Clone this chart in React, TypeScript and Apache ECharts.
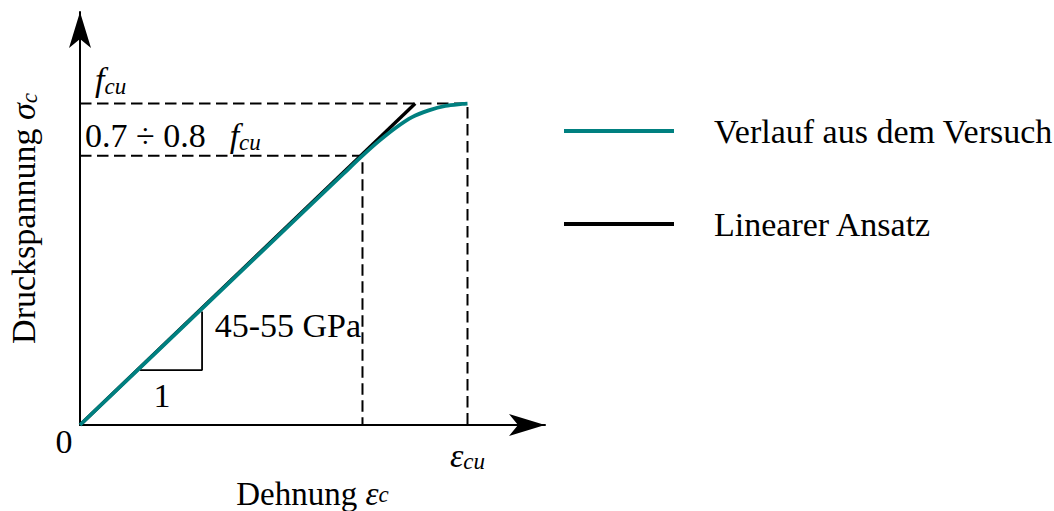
import React, { useEffect, useRef } from "react";
import * as echarts from "echarts";

// ---- data (normalised: strain / eps_cu, stress / f_cu) ----
const curveX = [0, 0.3, 0.6, 0.68, 0.729, 0.772, 0.815, 0.857, 0.9, 0.943, 0.986, 1.0];
const curveY = [0, 0.345, 0.69, 0.782, 0.838, 0.884, 0.925, 0.958, 0.979, 0.993, 0.999, 1.0];
const linearX = [0, 0.865];
const linearY = [0, 1.0];
const fcuLevel = 1.0;
const epsCu = 1.0;
const limitX = 0.729;
const limitY = 0.838;
const slopeX = [0.155, 0.315, 0.315];
const slopeY = [0.171, 0.171, 0.353];
const xMax = 1.2;
const yMax = 1.285;
const legendNames = ["Verlauf aus dem Versuch", "Linearer Ansatz"];
const annotationTexts = [
  "{i|f}{s|cu}",
  "{r|0.7 ÷ 0.8}{g|f}{s|cu}",
  "{r|45-55 GPa}",
  "{r|1}",
  "{r|0}",
];
const annotationAnchors = [
  [0, fcuLevel],
  [0, limitY],
  [slopeX[1], slopeY[1]],
  [(slopeX[0] + slopeX[1]) / 2, slopeY[0]],
  [0, 0],
];

const FONT = "'Liberation Serif', 'Times New Roman', serif";
const TEAL = "#008080";
const FS = 34;
const SFS = 23;

const richEc = {
  r: { fontFamily: FONT, fontSize: FS, lineHeight: 36, color: "#000" },
  i: { fontFamily: FONT, fontSize: FS, fontStyle: "italic", lineHeight: 36, color: "#000" },
  s: { fontFamily: FONT, fontSize: SFS, fontStyle: "italic", lineHeight: 20, verticalAlign: "bottom", color: "#000" },
};
const richName = {
  r: { fontFamily: FONT, fontSize: 33, lineHeight: 24, color: "#000" },
  i: { fontFamily: FONT, fontSize: 33, fontStyle: "italic", lineHeight: 24, color: "#000" },
  s: { fontFamily: FONT, fontSize: SFS, fontStyle: "italic", lineHeight: 10, verticalAlign: "bottom", color: "#000" },
};
const richZr = {
  r: { fontFamily: FONT, fontSize: FS, lineHeight: 36, fill: "#000" },
  i: { fontFamily: FONT, fontSize: FS, fontStyle: "italic", lineHeight: 36, fill: "#000" },
  g: { fontFamily: FONT, fontSize: FS, fontStyle: "italic", lineHeight: 36, fill: "#000", padding: [0, 0, 0, 24] },
  s: { fontFamily: FONT, fontSize: SFS, fontStyle: "italic", lineHeight: 20, verticalAlign: "bottom", fill: "#000" },
};
const annotationLayout = [
  { dx: 15, dy: -24, align: "left" },
  { dx: 5, dy: -20, align: "left" },
  { dx: 12.6, dy: -45, align: "left" },
  { dx: -9, dy: 25, align: "center" },
  { dx: -16, dy: 16, align: "center" },
];

const pairs = (xs: number[], ys: number[]) => xs.map((x, i) => [x, ys[i]]);

export default function App() {
  const ref = useRef<HTMLDivElement>(null);
  useEffect(() => {
    document.body.style.margin = "0";
    if (!ref.current) return;
    const chart = echarts.init(ref.current, null, { renderer: "svg" });
    const axisLine = {
      show: true,
      symbol: ["none", "arrow"],
      symbolSize: [16.5, 36],
      lineStyle: { color: "#000", width: 2 },
    };
    const dashed = { color: "#000", width: 2, type: [11.5, 5.5] as any };
    chart.setOption({
      animation: false,
      backgroundColor: "#fff",
      grid: { left: 80, right: 509, top: 12, bottom: 86, outerBoundsMode: "none" },
      legend: {
        data: legendNames,
        orient: "vertical",
        left: 564,
        top: 113,
        padding: 0,
        itemWidth: 110,
        itemHeight: 4,
        itemGap: 57,
        icon: "rect",
        textStyle: { fontFamily: FONT, fontSize: FS, lineHeight: 36, color: "#000", padding: [0, 0, 0, 35] },
      },
      xAxis: {
        type: "value",
        min: 0,
        max: xMax,
        interval: 1,
        axisLine,
        axisTick: { show: false },
        splitLine: { show: false },
        axisLabel: {
          margin: 12,
          formatter: (v: number) => (Math.abs(v - epsCu) < 1e-9 ? "{i|ε}{s|cu}" : ""),
          rich: richEc,
        },
        name: "{r|Dehnung }{i|ε}{s|c}",
        nameLocation: "middle",
        nameGap: 57,
        nameTextStyle: { rich: richName },
      },
      yAxis: {
        type: "value",
        min: 0,
        max: yMax,
        axisLine,
        axisTick: { show: false },
        splitLine: { show: false },
        axisLabel: { show: false },
        name: "{r|Druckspannung }{i|σ}{s|c}",
        nameLocation: "middle",
        nameRotate: 90,
        nameGap: 39,
        nameTextStyle: { rich: richEc },
      },
      series: [
        {
          name: "Linearer Ansatz",
          type: "line",
          data: pairs(linearX, linearY),
          symbol: "none",
          lineStyle: { color: "#000", width: 3.4 },
          itemStyle: { color: "#000" },
          z: 3,
        },
        {
          name: "Verlauf aus dem Versuch",
          type: "line",
          data: pairs(curveX, curveY),
          symbol: "none",
          smooth: 0.3,
          lineStyle: { color: TEAL, width: 3.8 },
          itemStyle: { color: TEAL },
          z: 4,
        },
        {
          name: "fcu",
          type: "line",
          data: [[0, fcuLevel], [epsCu, fcuLevel], [epsCu, 0]],
          symbol: "none",
          lineStyle: dashed,
          z: 2,
        },
        {
          name: "limit",
          type: "line",
          data: [[0, limitY], [limitX, limitY], [limitX, 0]],
          symbol: "none",
          lineStyle: dashed,
          z: 2,
        },
        {
          name: "slope",
          type: "line",
          data: pairs(slopeX, slopeY),
          symbol: "none",
          lineStyle: { color: "#000", width: 1.8 },
          z: 2,
        },
        {
          name: "labels",
          type: "custom",
          data: annotationAnchors.map((a, i) => [a[0], a[1], i]),
          encode: { x: 0, y: 1 },
          z: 5,
          renderItem: (params: any, api: any) => {
            const i = params.dataIndex;
            const p = api.coord([api.value(0), api.value(1)]);
            const o = annotationLayout[i];
            return {
              type: "text",
              x: p[0] + o.dx,
              y: p[1] + o.dy,
              style: {
                text: annotationTexts[i],
                rich: richZr,
                fontFamily: FONT,
                fontSize: FS,
                fill: "#000",
                align: o.align,
                verticalAlign: "middle",
              },
            };
          },
        },
      ],
    });
    return () => chart.dispose();
  }, []);
  return <div ref={ref} style={{ width: 1054, height: 511 }} />;
}
